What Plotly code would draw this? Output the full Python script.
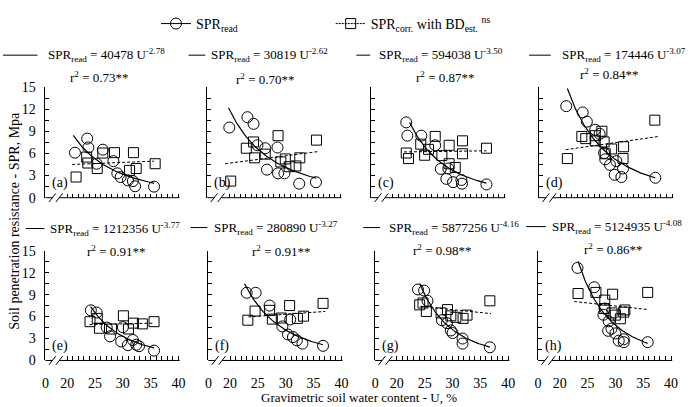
import numpy as np
import plotly.graph_objects as go

# ---------------- data ----------------
panel_labels = ["(a)", "(b)", "(c)", "(d)", "(e)", "(f)", "(g)", "(h)"]
coef_a = [40478, 30819, 594038, 174446, 1212356, 280890, 5877256, 5124935]
coef_b = [-2.78, -2.62, -3.50, -3.07, -3.77, -3.27, -4.16, -4.08]
r2_text = ["0.73", "0.70", "0.87", "0.84", "0.91", "0.91", "0.98", "0.86"]
fit_u_start = [21.1, 19.9, 23.0, 21.2, 24.2, 22.6, 24.1, 23.3]
fit_u_end = [35.6, 35.6, 36.8, 37.0, 35.6, 36.7, 36.7, 35.8]

# dotted SPRcorr trend (endpoints)
corr_line_u0 = [20.9, 19.3, 22.0, 20.9, 24.0, 23.3, 24.2, 22.6]
corr_line_s0 = [4.5, 4.6, 6.2, 6.5, 4.9, 5.95, 7.4, 8.05]
corr_line_u1 = [35.6, 36.0, 36.8, 37.7, 35.6, 37.1, 36.9, 36.0]
corr_line_s1 = [4.95, 6.25, 6.35, 8.3, 5.1, 6.7, 6.4, 6.95]

read_u_a = [21.4, 23.6, 23.8, 25.3, 26.4, 28.3, 29.0, 29.6, 30.9, 31.8, 32.2, 35.6]
read_s_a = [6.1, 8.0, 6.8, 4.6, 6.5, 4.95, 3.3, 2.8, 2.35, 2.25, 1.55, 1.5]
corr_u_a = [21.6, 23.5, 23.7, 25.4, 26.4, 28.5, 31.2, 31.9, 32.4, 35.8]
corr_s_a = [2.8, 5.5, 4.7, 3.95, 6.05, 6.1, 3.7, 6.1, 3.95, 4.6]

read_u_b = [20.05, 23.3, 24.4, 25.1, 26.5, 28.7, 26.8, 28.8, 29.95, 32.6, 35.6]
read_s_b = [9.5, 10.9, 10.0, 7.1, 6.7, 6.8, 3.8, 3.3, 3.3, 1.9, 2.1]
corr_u_b = [20.3, 23.1, 24.4, 24.6, 26.5, 28.8, 29.3, 30.1, 30.8, 32.0, 32.7, 35.7]
corr_s_b = [2.25, 6.7, 7.55, 5.4, 5.9, 8.4, 4.85, 5.25, 4.2, 4.3, 5.4, 7.8]

read_u_c = [22.4, 22.6, 25.1, 27.6, 28.6, 29.96, 29.6, 30.8, 32.3, 32.4, 36.8]
read_s_c = [10.2, 8.4, 8.4, 7.1, 3.9, 3.95, 2.55, 2.1, 2.4, 1.9, 1.8]
corr_u_c = [22.4, 22.8, 25.0, 25.7, 26.4, 27.6, 28.8, 30.1, 30.1, 31.2, 32.5, 32.5, 36.8]
corr_s_c = [6.05, 5.3, 7.25, 5.75, 6.55, 8.3, 5.7, 7.1, 4.6, 4.1, 7.7, 5.95, 6.7]

read_u_d = [21.0, 23.95, 24.7, 26.2, 27.0, 27.8, 28.0, 28.85, 30.0, 31.2, 29.7, 30.9, 37.0]
read_s_d = [12.4, 11.55, 10.3, 9.2, 8.65, 6.05, 5.2, 4.45, 4.95, 3.95, 3.1, 2.8, 2.7]
corr_u_d = [21.2, 23.8, 24.5, 26.2, 26.2, 27.4, 27.8, 28.0, 29.15, 31.3, 31.2, 36.9]
corr_s_d = [5.3, 8.3, 8.0, 7.7, 8.4, 9.0, 7.55, 5.95, 6.6, 6.9, 5.3, 10.5]

read_u_e = [24.25, 25.3, 27.1, 27.7, 30.0, 29.7, 30.9, 31.8, 32.4, 32.9, 35.6]
read_s_e = [6.85, 6.55, 4.5, 3.3, 4.55, 2.6, 2.1, 2.8, 2.15, 1.95, 1.35]
corr_u_e = [24.1, 25.4, 25.8, 27.96, 30.1, 31.0, 31.9, 33.5, 35.6]
corr_s_e = [5.3, 5.75, 4.4, 4.3, 6.1, 4.3, 5.1, 5.0, 5.3]

read_u_f = [23.0, 24.6, 27.1, 29.4, 30.8, 30.4, 31.3, 32.0, 33.0, 36.7]
read_s_f = [9.25, 9.25, 7.5, 4.65, 5.6, 3.55, 3.2, 2.75, 2.3, 2.0]
corr_u_f = [23.2, 24.5, 27.1, 27.6, 29.2, 30.7, 32.1, 33.2, 36.7]
corr_s_f = [5.5, 6.75, 6.85, 5.65, 5.8, 7.5, 5.75, 6.05, 7.8]

read_u_g = [23.8, 24.9, 25.5, 28.1, 29.0, 29.7, 30.0, 31.8, 31.8, 36.7]
read_s_g = [9.7, 9.55, 8.15, 5.5, 5.1, 4.1, 3.75, 3.0, 2.3, 1.8]
corr_u_g = [24.1, 24.7, 25.3, 27.95, 29.1, 29.7, 30.6, 31.9, 32.6, 36.7]
corr_s_g = [7.6, 7.85, 6.7, 6.5, 6.95, 6.1, 5.9, 5.75, 6.2, 8.15]

read_u_h = [23.2, 26.2, 28.1, 27.85, 28.8, 29.3, 28.7, 30.0, 30.6, 31.5, 31.5, 35.8]
read_s_h = [12.65, 10.0, 7.1, 6.25, 5.35, 4.35, 4.05, 3.7, 2.7, 2.9, 2.5, 2.5]
corr_u_h = [23.3, 26.5, 28.1, 28.0, 29.5, 29.4, 30.0, 30.9, 31.5, 31.7, 35.8]
corr_s_h = [9.15, 9.3, 8.25, 7.1, 9.05, 6.5, 6.2, 5.7, 6.6, 6.9, 9.3]

x_tick_vals = [20, 25, 30, 35, 40]
x_tick_text = ["0", "20", "25", "30", "35", "40"]
y_tick_vals = [0, 3, 6, 9, 12, 15]

read_u = [read_u_a, read_u_b, read_u_c, read_u_d, read_u_e, read_u_f, read_u_g, read_u_h]
read_s = [read_s_a, read_s_b, read_s_c, read_s_d, read_s_e, read_s_f, read_s_g, read_s_h]
corr_u = [corr_u_a, corr_u_b, corr_u_c, corr_u_d, corr_u_e, corr_u_f, corr_u_g, corr_u_h]
corr_s = [corr_s_a, corr_s_b, corr_s_c, corr_s_d, corr_s_e, corr_s_f, corr_s_g, corr_s_h]

# ---------------- layout (pixels) ----------------
W, H = 693, 407
FONT = "Liberation Serif"
PW = 136           # panel width in px
X_MIN, X_MAX = 16.1, 40.2
col_x_top = [43, 207, 373, 543]
col_x_bot = [43, 208, 377, 542]
row_y = [(83, 198), (253, 367)]
eq_left = [44, 209, 379, 564, 46, 212, 389, 554]
eq_y = [50, 50, 50, 50, 230, 229, 229, 228]
eq_line_x0 = [0, 188, 358, 533, 23, 190, 365, 530]
eq_line_x1 = [35, 205, 372, 555, 42, 207, 382, 550]
r2_cx = [97, 265, 448, 614, 114, 282, 445, 618]
r2_y = [73, 75, 73, 70, 253, 253, 252, 251]

def px(x):
    return x / W

def py(y):
    return 1 - y / H

fig = go.Figure()
shapes = []
annotations = []
axis_font = dict(family=FONT, size=14, color="black")
text_font = dict(family=FONT, size=13, color="black")

for i in range(8):
    n = "" if i == 0 else str(i + 1)
    xa, ya = "x" + n, "y" + n
    row, col = divmod(i, 4)
    x0 = (col_x_top if row == 0 else col_x_bot)[col]
    ytop, ybot = row_y[row]

    fig.update_layout(**{
        "xaxis" + n: dict(
            domain=[px(x0), px(x0 + PW)], range=[X_MIN, X_MAX], anchor=ya,
            tickmode="array", tickvals=[X_MIN + 0.02] + x_tick_vals, ticktext=x_tick_text,
            showticklabels=(row == 1),
            ticks="inside", ticklen=4, tickcolor="black", tickwidth=1,
            minor=dict(tickmode="array", tickvals=list(range(20, 41)), ticks="inside",
                       ticklen=4, tickcolor="black", tickwidth=1),
            showline=False, showgrid=False, zeroline=False,
            tickfont=axis_font, ticklabelstandoff=13, fixedrange=True,
        ),
        "yaxis" + n: dict(
            domain=[py(ybot), py(ytop)], range=[0, 15], anchor=xa,
            tickmode="array", tickvals=y_tick_vals,
            showticklabels=(col == 0),
            ticks="inside", ticklen=4, tickcolor="black", tickwidth=1,
            minor=dict(dtick=1.5, tick0=0, ticks="inside", ticklen=4,
                       tickcolor="black", tickwidth=1),
            showline=True, linecolor="black", linewidth=1,
            showgrid=False, zeroline=False,
            tickfont=axis_font, ticklabelstandoff=6, fixedrange=True,
        ),
    })

    # fitted power curve for SPR_read (from the equation shown)
    uu = np.linspace(fit_u_start[i], fit_u_end[i], 60)
    fig.add_trace(go.Scatter(x=uu, y=coef_a[i] * uu ** coef_b[i], mode="lines",
                             line=dict(color="black", width=1.2), xaxis=xa, yaxis=ya,
                             showlegend=False, hoverinfo="skip"))
    # dotted trend for SPR_corr
    fig.add_trace(go.Scatter(x=[corr_line_u0[i], corr_line_u1[i]],
                             y=[corr_line_s0[i], corr_line_s1[i]], mode="lines",
                             line=dict(color="black", width=1, dash="3px,2px"),
                             xaxis=xa, yaxis=ya, showlegend=False, hoverinfo="skip"))
    fig.add_trace(go.Scatter(x=corr_u[i], y=corr_s[i], mode="markers",
                             marker=dict(symbol="square-open", size=10, color="black",
                                         line=dict(width=1)),
                             xaxis=xa, yaxis=ya, showlegend=False))
    fig.add_trace(go.Scatter(x=read_u[i], y=read_s[i], mode="markers",
                             marker=dict(symbol="circle-open", size=11, color="black",
                                         line=dict(width=1)),
                             xaxis=xa, yaxis=ya, showlegend=False))

    # broken x-axis line with "//" marks
    xd = xa + " domain"
    yd = ya + " domain"
    s1 = 7 / PW
    s2 = 14 / PW
    dx = 3.4 / PW
    dy = 4.5 / (ybot - ytop)
    ln = dict(color="black", width=1)
    shapes.append(dict(type="line", xref=xd, yref=yd, x0=0, x1=s1, y0=0, y1=0, line=ln))
    shapes.append(dict(type="line", xref=xd, yref=yd, x0=s2, x1=1, y0=0, y1=0, line=ln))
    shapes.append(dict(type="line", xref=xd, yref=yd, x0=s1 - dx, x1=s1 + dx, y0=-dy, y1=dy, line=ln))
    shapes.append(dict(type="line", xref=xd, yref=yd, x0=s2 - dx, x1=s2 + dx, y0=-dy, y1=dy, line=ln))

    # panel letter
    annotations.append(dict(text=panel_labels[i], xref=xd, yref=yd, x=0.035, y=0.13,
                            xanchor="left", yanchor="middle", showarrow=False,
                            font=dict(family=FONT, size=14, color="black")))

    # equation with solid line key
    shapes.append(dict(type="line", xref="paper", yref="paper",
                       x0=px(eq_line_x0[i]), x1=px(eq_line_x1[i]),
                       y0=py(eq_y[i]), y1=py(eq_y[i]), line=ln))
    annotations.append(dict(
        text="SPR<sub>read</sub> = %d U<sup>%.2f</sup>" % (coef_a[i], coef_b[i]),
        xref="paper", yref="paper", x=px(eq_left[i]), y=py(eq_y[i]),
        xanchor="left", yanchor="middle", showarrow=False, font=text_font))
    annotations.append(dict(
        text="r<sup>2</sup> = %s**" % r2_text[i],
        xref="paper", yref="paper", x=px(r2_cx[i]), y=py(r2_y[i]),
        xanchor="center", yanchor="middle", showarrow=False, font=text_font))

# axis titles
annotations.append(dict(text="Soil penetration resistance - SPR, Mpa", textangle=-90,
                        xref="paper", yref="paper", x=px(12), y=py(222),
                        xanchor="center", yanchor="middle", showarrow=False,
                        font=dict(family=FONT, size=14, color="black")))
annotations.append(dict(text="Gravimetric soil water content - U, %",
                        xref="paper", yref="paper", x=px(361), y=py(396),
                        xanchor="center", yanchor="top", showarrow=False,
                        font=dict(family=FONT, size=13, color="black")))

# legend entries (two separate legends for exact placement)
fig.add_trace(go.Scatter(x=[None], y=[None], mode="lines+markers", name="SPR<sub>read</sub>",
                         line=dict(color="black", width=1),
                         marker=dict(symbol="circle-open", size=11, color="black"),
                         legend="legend"))
fig.add_trace(go.Scatter(x=[None], y=[None], mode="lines+markers",
                         name="SPR<sub>corr.</sub> with BD<sub>est.</sub> <sup>ns</sup>",
                         line=dict(color="black", width=1, dash="2px,1px"),
                         marker=dict(symbol="square-open", size=10, color="black"),
                         legend="legend2"))

leg_common = dict(orientation="h", yanchor="top", xanchor="left", itemwidth=30,
                  bgcolor="rgba(0,0,0,0)", font=dict(family=FONT, size=14, color="black"))

fig.update_layout(
    width=W, height=H, margin=dict(l=0, r=0, t=0, b=0), autosize=False,
    paper_bgcolor="white", plot_bgcolor="white",
    font=dict(family=FONT, size=14, color="black"),
    shapes=shapes, annotations=annotations,
    showlegend=True,
    legend=dict(x=px(155), y=py(1), **leg_common),
    legend2=dict(x=px(332), y=py(1), **leg_common),
)

fig.write_html("out.html", config={"displayModeBar": False})
